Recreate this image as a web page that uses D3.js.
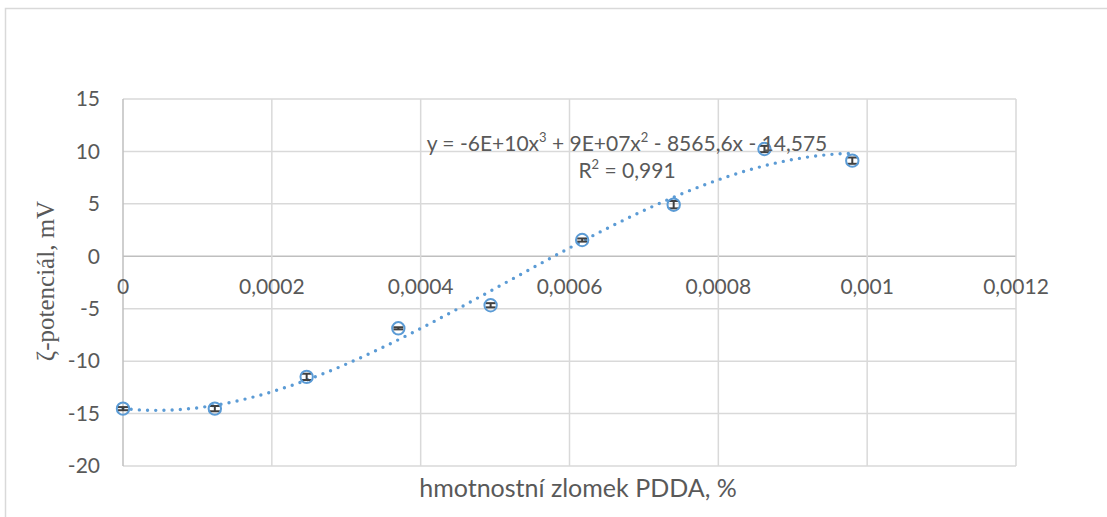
<!DOCTYPE html>
<html>
<head>
<meta charset="utf-8">
<script src="https://cdn.jsdelivr.net/npm/d3@7"></script>
<style>
  html, body { margin: 0; padding: 0; background: #fff; }
  svg { display: block; }
  text { font-family: Lato, "Open Sans", sans-serif; fill: #595959; }
</style>
</head>
<body>
<svg id="chart" width="1107" height="517"></svg>
<script>
// Mass fraction of PDDA (%) and measured zeta potential (mV)
const massFraction = [0, 0.0001234, 0.0002468, 0.00037, 0.000494, 0.000617, 0.00074, 0.000862, 0.00098];
const zetaPotential = [-14.53, -14.53, -11.5, -6.87, -4.67, 1.55, 4.92, 10.23, 9.12];
const zetaError = [0.15, 0.25, 0.3, 0.1, 0.2, 0.15, 0.35, 0.3, 0.3];

const xTicks = [0, 0.0002, 0.0004, 0.0006, 0.0008, 0.001, 0.0012];
const xTickLabels = ["0", "0,0002", "0,0004", "0,0006", "0,0008", "0,001", "0,0012"];
const yTicks = [15, 10, 5, 0, -5, -10, -15, -20];
const yTickLabels = ["15", "10", "5", "0", "-5", "-10", "-15", "-20"];

const equationText = ["y = -6E+10x", "3", " + 9E+07x", "2", " - 8565,6x - 14,575"];
const rSquaredText = ["R", "2", " = 0,991"];

const blue = "#5B9BD5";
const svg = d3.select("#chart");

// Outer chart frame
svg.append("rect")
  .attr("x", 5.5).attr("y", 8.5)
  .attr("width", 1120).attr("height", 530)
  .attr("fill", "none").attr("stroke", "#d9d9d9").attr("stroke-width", 1.5);

const plot = { left: 123, right: 1016, top: 99, bottom: 466 };
const x = d3.scaleLinear().domain([0, 0.0012]).range([plot.left, plot.right]);
const y = d3.scaleLinear().domain([-20, 15]).range([plot.bottom, plot.top]);

// Gridlines
const grid = svg.append("g");
grid.selectAll("line.h").data(yTicks).join("line")
  .attr("x1", plot.left).attr("x2", plot.right)
  .attr("y1", d => y(d)).attr("y2", d => y(d))
  .attr("stroke", d => d === 0 ? "#bfbfbf" : "#d9d9d9")
  .attr("stroke-width", 1.5);
grid.selectAll("line.v").data(xTicks.filter(d => d > 0)).join("line")
  .attr("x1", d => x(d)).attr("x2", d => x(d))
  .attr("y1", plot.top).attr("y2", plot.bottom)
  .attr("stroke", "#d9d9d9").attr("stroke-width", 1.5);
// Vertical axis line
grid.append("line")
  .attr("x1", plot.left).attr("x2", plot.left)
  .attr("y1", plot.top).attr("y2", plot.bottom)
  .attr("stroke", "#bfbfbf").attr("stroke-width", 1.5);

// Tick labels
svg.append("g").selectAll("text").data(yTicks).join("text")
  .attr("x", 100).attr("y", d => y(d))
  .attr("dy", "0.35em")
  .attr("text-anchor", "end")
  .attr("font-size", 21)
  .text((d, i) => yTickLabels[i]);

svg.append("g").selectAll("text").data(xTicks).join("text")
  .attr("x", d => x(d)).attr("y", y(0) + 38)
  .attr("text-anchor", "middle")
  .attr("font-size", 21)
  .text((d, i) => xTickLabels[i]);

// Axis titles
svg.append("text")
  .attr("transform", "translate(54,281) rotate(-90)")
  .attr("text-anchor", "middle")
  .style("font-family", "'Liberation Serif', 'Times New Roman', serif")
  .attr("font-size", 25)
  .text("ζ-potenciál, mV");

svg.append("text")
  .attr("x", 578).attr("y", 497)
  .attr("text-anchor", "middle")
  .attr("font-size", 25)
  .text("hmotnostní zlomek PDDA, %");

// Cubic least-squares trendline
function polyFit(xs, ys, degree) {
  const s = 1000; // scale x for conditioning
  const n = degree + 1;
  const A = Array.from({ length: n }, () => new Array(n + 1).fill(0));
  xs.forEach((xv, k) => {
    const t = xv * s;
    for (let i = 0; i < n; i++) {
      for (let j = 0; j < n; j++) A[i][j] += Math.pow(t, i + j);
      A[i][n] += ys[k] * Math.pow(t, i);
    }
  });
  for (let c = 0; c < n; c++) {
    let p = c;
    for (let r = c + 1; r < n; r++) if (Math.abs(A[r][c]) > Math.abs(A[p][c])) p = r;
    [A[c], A[p]] = [A[p], A[c]];
    for (let r = 0; r < n; r++) {
      if (r === c) continue;
      const f = A[r][c] / A[c][c];
      for (let j = c; j <= n; j++) A[r][j] -= f * A[c][j];
    }
  }
  const coef = A.map((row, i) => row[n] / row[i]);
  return xv => coef.reduce((acc, c, i) => acc + c * Math.pow(xv * s, i), 0);
}
const fit = polyFit(massFraction, zetaPotential, 3);
const xMax = d3.max(massFraction);
const curve = d3.range(0, 201).map(i => [xMax * i / 200]);
svg.append("path")
  .datum(curve)
  .attr("d", d3.line().x(d => x(d[0])).y(d => y(fit(d[0]))))
  .attr("fill", "none")
  .attr("stroke", blue)
  .attr("stroke-width", 3.4)
  .attr("stroke-linecap", "round")
  .attr("stroke-dasharray", "0 8.2");

// Error bars
const eb = svg.append("g").attr("stroke", "#404040").attr("stroke-width", 2);
massFraction.forEach((xv, i) => {
  const cx = x(xv), y1 = y(zetaPotential[i] - zetaError[i]), y2 = y(zetaPotential[i] + zetaError[i]);
  eb.append("line").attr("x1", cx).attr("x2", cx).attr("y1", y1).attr("y2", y2);
  eb.append("line").attr("x1", cx - 5).attr("x2", cx + 5).attr("y1", y1).attr("y2", y1);
  eb.append("line").attr("x1", cx - 5).attr("x2", cx + 5).attr("y1", y2).attr("y2", y2);
});

// Markers
svg.append("g").selectAll("circle").data(massFraction).join("circle")
  .attr("cx", d => x(d))
  .attr("cy", (d, i) => y(zetaPotential[i]))
  .attr("r", 6.2)
  .attr("fill", "none")
  .attr("stroke", blue)
  .attr("stroke-width", 2);

// Trendline equation label
const eq = svg.append("text")
  .attr("x", 627).attr("y", 151)
  .attr("text-anchor", "middle")
  .attr("font-size", 21);
equationText.forEach((t, i) => {
  eq.append("tspan")
    .attr("font-size", i % 2 ? 13 : 21)
    .attr("dy", i % 2 ? -9 : (i > 0 ? 9 : 0))
    .text(t);
});
const r2 = svg.append("text")
  .attr("x", 627).attr("y", 178)
  .attr("text-anchor", "middle")
  .attr("font-size", 21);
rSquaredText.forEach((t, i) => {
  r2.append("tspan")
    .attr("font-size", i % 2 ? 13 : 21)
    .attr("dy", i % 2 ? -9 : (i > 0 ? 9 : 0))
    .text(t);
});
</script>
</body>
</html>
